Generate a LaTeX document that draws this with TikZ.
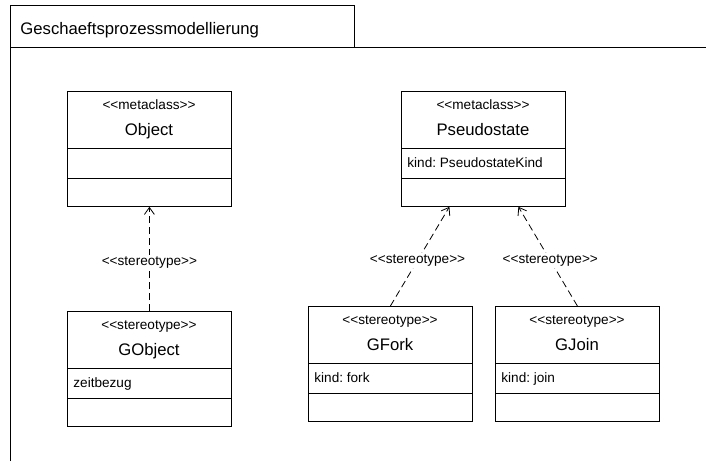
\documentclass[tikz,border=0pt]{standalone}
\usepackage{fontspec}
\setmainfont{Liberation Sans}
\usetikzlibrary{arrows.meta}
\newcommand\myopen{<\kern0pt<}
\newcommand\myclose{>\kern0pt>}
\frenchspacing
\begin{document}
\begin{tikzpicture}[x=1pt,y=-1pt,line width=0.8pt,
  classbox/.style={draw,rectangle,minimum width=164pt,minimum height=115pt,inner sep=0pt,anchor=north west},
  sttext/.style={font=\fontsize{13.6}{16}\selectfont,anchor=base,inner sep=0pt},
  nmtext/.style={font=\fontsize{16.7}{20}\selectfont,anchor=base,inner sep=0pt},
  attrtext/.style={font=\fontsize{13.6}{16}\selectfont,anchor=base west,inner sep=0pt},
  dep/.style={dash pattern=on 7pt off 4pt,-{Straight Barb[length=7pt,width=10pt,line width=0.8pt]}},
  lbl/.style={font=\fontsize{13.6}{16}\selectfont,fill=white,inner sep=1.5pt}]
\useasboundingbox (0,0) rectangle (706,461);
% package frame
\coordinate (tl) at (10.5,5);
\coordinate (tr) at (354.5,5);
\coordinate (tb) at (354.5,47.5);
\coordinate (fl) at (10.5,47.5);
\coordinate (fr) at (706,47.5);
\coordinate (bl) at (10.5,461);
\draw (bl) -- (tl) -- (tr) -- (tb);
\draw (fl) -- (fr);
\node[anchor=base west,inner sep=0pt,font=\fontsize{16.7}{20}\selectfont] (title) at (20,34) {Geschaeftsprozessmodellierung};
% Object
\node[classbox] (object) at (67,91) {};
\draw ([yshift=-57pt]object.north west) -- ([yshift=-57pt]object.north east);
\draw ([yshift=-87pt]object.north west) -- ([yshift=-87pt]object.north east);
\node[sttext] (objst) at (149,109.5) {\myopen metaclass\myclose};
\node[nmtext] (objnm) at (149,135) {Object};
% Pseudostate
\node[classbox] (pseudo) at (401,91) {};
\draw ([yshift=-57pt]pseudo.north west) -- ([yshift=-57pt]pseudo.north east);
\draw ([yshift=-87pt]pseudo.north west) -- ([yshift=-87pt]pseudo.north east);
\node[sttext] (psst) at (483,109.5) {\myopen metaclass\myclose};
\node[nmtext] (psnm) at (483,135) {Pseudostate};
\node[attrtext] (psat) at (407,167) {kind: PseudostateKind};
% GObject
\node[classbox] (gobject) at (67,311) {};
\draw ([yshift=-57pt]gobject.north west) -- ([yshift=-57pt]gobject.north east);
\draw ([yshift=-87pt]gobject.north west) -- ([yshift=-87pt]gobject.north east);
\node[sttext] (gost) at (149,329.5) {\myopen stereotype\myclose};
\node[nmtext] (gonm) at (149,355) {GObject};
\node[attrtext] (goat) at (73,387) {zeitbezug};
% GFork
\node[classbox] (gfork) at (308,306) {};
\draw ([yshift=-57pt]gfork.north west) -- ([yshift=-57pt]gfork.north east);
\draw ([yshift=-87pt]gfork.north west) -- ([yshift=-87pt]gfork.north east);
\node[sttext] (gfst) at (390,324.5) {\myopen stereotype\myclose};
\node[nmtext] (gfnm) at (390,350) {GFork};
\node[attrtext] (gfat) at (314,382) {kind: fork};
% GJoin
\node[classbox] (gjoin) at (495,306) {};
\draw ([yshift=-57pt]gjoin.north west) -- ([yshift=-57pt]gjoin.north east);
\draw ([yshift=-87pt]gjoin.north west) -- ([yshift=-87pt]gjoin.north east);
\node[sttext] (gjst) at (577,324.5) {\myopen stereotype\myclose};
\node[nmtext] (gjnm) at (577,350) {GJoin};
\node[attrtext] (gjat) at (501,382) {kind: join};
% dependencies
\draw[dep] (gobject.north) -- node[lbl,pos=0.47] {\myopen stereotype\myclose} (object.south);
\draw[dep] (gfork.north) -- node[lbl,pos=0.46] {\myopen stereotype\myclose} ([xshift=-34pt]pseudo.south);
\draw[dep] (gjoin.north) -- node[lbl,pos=0.46] {\myopen stereotype\myclose} ([xshift=35pt]pseudo.south);
\end{tikzpicture}
\end{document}
